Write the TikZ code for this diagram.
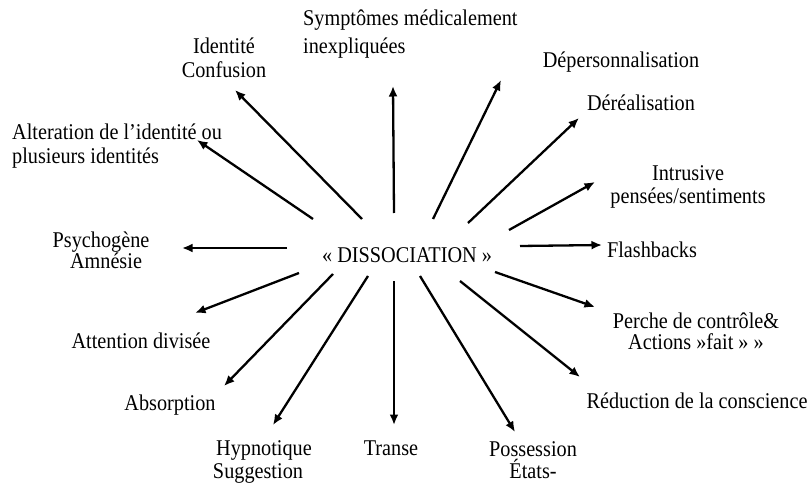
\documentclass[tikz,border=0pt]{standalone}
\usepackage{fontspec}
\setmainfont[FakeStretch=0.9]{Liberation Serif}
\usetikzlibrary{arrows.meta}

\begin{document}
\begin{tikzpicture}[x=1pt, y=-1pt,
    lbl/.style={inner sep=0pt, align=center, font=\fontsize{22.5}{23}\selectfont},
    arr/.style={line width=2.3pt, -{Latex[length=10.5pt,width=9pt]}}]
            \useasboundingbox (0,0) rectangle (812,484);

            \node[lbl] (diss) at (407,255) {« DISSOCIATION »};

            \node[lbl, font=\fontsize{22.5}{24}\selectfont] (conf) at (224,58) {Identité\\Confusion};
            \node[lbl, align=left, anchor=west, font=\fontsize{22.5}{28}\selectfont] (symp) at (303,34) {Symptômes médicalement\\inexpliquées};
            \node[lbl, align=left, anchor=west, font=\fontsize{22.5}{24}\selectfont] (alt) at (12,146) {Alteration de l’identité ou\\plusieurs identités};
            \node[lbl, font=\fontsize{22.5}{21}\selectfont] (psy) at (101,250) {Psychogène\\\hspace{10pt}Amnésie};
            \node[lbl] (att) at (141,341) {Attention divisée};
            \node[lbl] (abs) at (170,405) {Absorption};
            \node[lbl] (hyp) at (258,462) {\hspace{12pt}Hypnotique\\Suggestion};
            \node[lbl] (tra) at (391,448) {Transe};
            \node[lbl, font=\fontsize{22.5}{22}\selectfont] (pos) at (533,460) {Possession\\États-};
            \node[lbl] (red) at (697,401) {Réduction de la conscience};
            \node[lbl, font=\fontsize{22.5}{21}\selectfont] (per) at (696,331) {Perche de contrôle\&\\Actions »fait » »};
            \node[lbl] (fla) at (652,250) {Flashbacks};
            \node[lbl] (intr) at (688,187) {Intrusive\\pensées/sentiments};
            \node[lbl] (dere) at (641,103) {Déréalisation};
            \node[lbl] (dep) at (621,62) {Dépersonnalisation};

            % tails round the centre
            \coordinate (s-conf) at (362,219);
            \coordinate (s-alt) at (313,219);
            \coordinate (s-symp) at (394,213);
            \coordinate (s-dep) at (433,219);
            \coordinate (s-dere) at (468,223);
            \coordinate (s-intr) at (509,230);
            \coordinate (s-fla) at (520,246);
            \coordinate (s-psy) at (287,248);
            \coordinate (s-att) at (299,273);
            \coordinate (s-abs) at (333,274);
            \coordinate (s-hyp) at (368,276);
            \coordinate (s-tra) at (394,281);
            \coordinate (s-pos) at (420,276);
            \coordinate (s-red) at (460,281);
            \coordinate (s-per) at (495,272);

            % tips near the labels
            \coordinate (e-conf) at (235,90);
            \coordinate (e-alt) at (197,140);
            \coordinate (e-symp) at (393,86);
            \coordinate (e-dep) at (501,80);
            \coordinate (e-dere) at (579,118);
            \coordinate (e-intr) at (595,182);
            \coordinate (e-fla) at (602,245);
            \coordinate (e-psy) at (182,248);
            \coordinate (e-att) at (195,313);
            \coordinate (e-abs) at (224,386);
            \coordinate (e-hyp) at (273,425);
            \coordinate (e-tra) at (394,425);
            \coordinate (e-pos) at (515,432);
            \coordinate (e-red) at (580,377);
            \coordinate (e-per) at (595,307);

            \foreach \n in {conf,alt,symp,dep,dere,intr,fla,psy,att,abs,hyp,tra,pos,red,per}
                \draw[arr] (s-\n) to (e-\n);
        \end{tikzpicture}
\end{document}
